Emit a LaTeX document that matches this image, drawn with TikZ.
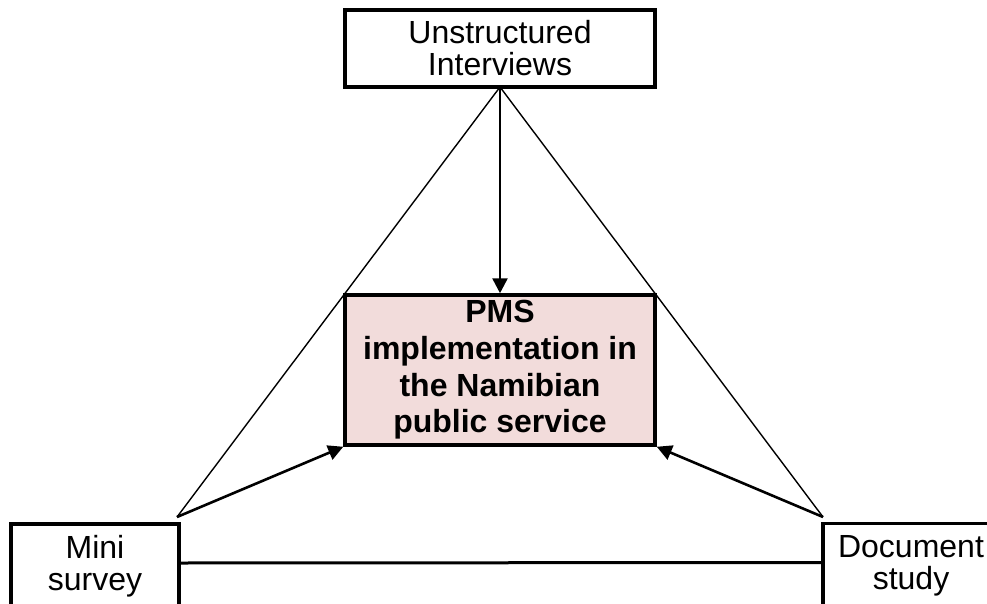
\documentclass[tikz,border=0pt]{standalone}
\usepackage{fontspec}
\setmainfont{Liberation Sans}
\usetikzlibrary{arrows.meta}
\definecolor{pmsfill}{HTML}{F2DCDB}
\tikzset{
  srcbox/.style={draw=black, line width=3.5pt, fill=white, inner sep=0pt, align=center,
    font=\fontsize{32}{32}\selectfont},
  centrebox/.style={draw=black, line width=3.5pt, fill=pmsfill, inner sep=0pt, align=center,
    font=\fontsize{32}{36.7}\selectfont\bfseries},
  thinline/.style={line width=1.4pt},
  arr/.style={line width=2.6pt, -{Triangle[width=15pt,length=15pt]}},
  baseline/.style={line width=3pt}
}
\begin{document}
\begin{tikzpicture}[x=1pt,y=-1pt]
\useasboundingbox (0,0) rectangle (987,604);
\clip (0,0) rectangle (987,604);
% node anchors (invisible placement first)
\coordinate (mL) at (177,517);
\coordinate (mR) at (823,517);
\coordinate (topS) at (500,87);
% connectors behind boxes
\draw[thinline] (topS) -- (mL);
\draw[thinline] (topS) -- (mR);
\node[centrebox, minimum width=310pt, minimum height=150pt] (pms) at (500,370)
  {PMS\\implementation in\\the Namibian\\public service};
\node[srcbox, minimum width=310pt, minimum height=77pt] (top) at (500,48.5)
  {Unstructured\\Interviews};
\node[srcbox, minimum width=168pt, minimum height=84pt] (mini) at (95,566)
  {Mini\\survey};
\node[srcbox, minimum width=176pt, minimum height=84pt] (doc) at (911,565.5)
  {Document\\study};
\draw[arr] (top.south) -- (pms.north);
\draw[arr] (mL) -- (pms.south west);
\draw[arr] (mR) -- (pms.south east);
\draw[baseline] ([yshift=3pt]mini.east) -- ([yshift=3pt]doc.west);
\end{tikzpicture}
\end{document}
